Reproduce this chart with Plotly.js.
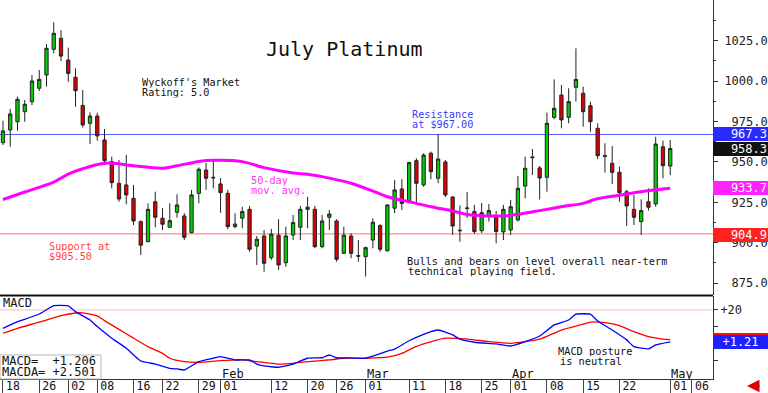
<!DOCTYPE html>
<html><head><meta charset="utf-8">
<script src="https://cdn.plot.ly/plotly-3.0.1.min.js"></script>
<style>html,body{margin:0;padding:0;background:#fff}#chart{width:768px;height:393px}</style>
</head><body><div id="chart"></div>
<script>
const dates = ['2023-12-18','2023-12-19','2023-12-20','2023-12-21','2023-12-22','2023-12-26','2023-12-27','2023-12-28','2023-12-29',
'2024-01-02','2024-01-03','2024-01-04','2024-01-05','2024-01-08','2024-01-09','2024-01-10','2024-01-11','2024-01-12','2024-01-16','2024-01-17','2024-01-18','2024-01-19','2024-01-22','2024-01-23','2024-01-24','2024-01-25','2024-01-26','2024-01-29','2024-01-30','2024-01-31',
'2024-02-01','2024-02-02','2024-02-05','2024-02-06','2024-02-07','2024-02-08','2024-02-09','2024-02-12','2024-02-13','2024-02-14','2024-02-15','2024-02-16','2024-02-20','2024-02-21','2024-02-22','2024-02-23','2024-02-26','2024-02-27','2024-02-28','2024-02-29',
'2024-03-01','2024-03-04','2024-03-05','2024-03-06','2024-03-07','2024-03-08','2024-03-11','2024-03-12','2024-03-13','2024-03-14','2024-03-15','2024-03-18','2024-03-19','2024-03-20','2024-03-21','2024-03-22','2024-03-25','2024-03-26','2024-03-27','2024-03-28',
'2024-04-01','2024-04-02','2024-04-03','2024-04-04','2024-04-05','2024-04-08','2024-04-09','2024-04-10','2024-04-11','2024-04-12','2024-04-15','2024-04-16','2024-04-17','2024-04-18','2024-04-19','2024-04-22','2024-04-23','2024-04-24','2024-04-25','2024-04-26','2024-04-29','2024-04-30',
'2024-05-01'];

const openP = [961.9,969.8,974.9,981.1,987.3,995.6,1003.8,1019.7,1026.5,1013.1,1002.4,985.0,973.9,978.4,963.6,950.2,936.8,935.8,927.5,913.1,900.7,925.4,915.2,909.6,918.9,916.6,906.3,930.6,945.0,940.5,
936.4,930.6,910.0,915.2,920.7,898.0,904.2,890.8,904.7,887.7,904.8,909.6,920.7,920.7,897.6,915.8,913.5,893.5,904.2,891.7,
891.4,901.7,910.6,895.1,921.4,933.3,926.1,950.8,935.8,955.4,939.9,950.0,928.3,907.4,921.2,919.3,907.5,916.6,916.6,906.7,
907.9,914.1,935.1,953.1,946.3,940.5,977.6,991.4,977.6,996.2,992.5,984.8,970.8,953.5,949.2,943.6,931.6,920.7,913.1,925.4,924.0,959.4,947.5];
const highP = [975.5,982.8,990.4,988.3,1003.8,1006.9,1023.0,1036.4,1031.6,1020.7,1007.9,994.5,980.7,980.5,970.4,953.3,951.2,954.3,935.8,913.8,924.4,931.6,921.4,924.4,930.0,918.4,932.7,946.7,949.4,951.2,
940.1,932.7,918.3,922.3,922.8,904.2,907.9,908.6,914.6,910.0,917.2,922.8,928.5,922.8,917.2,920.3,914.6,910.0,905.9,901.7,
897.6,915.2,911.5,923.8,938.9,939.3,950.2,952.3,955.4,956.4,967.0,951.2,928.8,923.1,931.4,923.4,924.6,924.0,919.7,923.4,
926.5,941.3,953.3,958.0,947.5,980.5,1001.1,997.6,995.6,1020.3,996.6,987.3,973.9,961.6,959.9,947.1,932.7,929.6,926.9,933.7,965.6,963.2,963.6];
const lowP = [960.5,959.4,969.3,974.9,985.2,993.9,996.6,1017.2,1012.4,999.6,984.2,971.4,961.1,963.2,948.1,933.7,925.4,923.8,911.0,892.5,900.3,909.6,907.9,909.3,915.5,901.7,905.9,924.4,932.7,933.7,
918.6,908.4,909.0,909.0,894.5,886.3,882.1,889.4,883.2,885.2,901.7,901.7,909.0,896.6,896.6,907.9,888.3,893.1,890.4,888.3,
879.1,896.6,894.5,894.5,918.3,920.3,925.4,924.4,934.7,939.3,936.8,928.3,904.8,900.7,915.4,905.5,906.1,913.1,899.7,901.7,
904.8,913.1,927.5,941.9,926.8,931.6,976.4,970.8,973.9,987.3,971.8,968.7,951.7,943.4,936.4,925.4,910.4,911.0,904.8,919.9,922.3,939.9,941.9];
const closeP = [969.2,979.7,988.8,985.7,1000.1,1001.1,1020.3,1029.6,1015.5,1004.8,994.1,972.9,978.4,966.1,950.8,937.2,927.1,929.6,913.5,898.5,920.7,915.8,911.5,913.7,923.4,903.4,929.6,945.5,939.9,940.2,
931.0,910.0,911.6,919.3,896.0,902.2,887.3,905.3,886.3,904.2,912.5,920.7,922.0,897.6,913.5,917.8,889.8,904.7,893.5,892.0,
897.0,912.7,896.0,923.4,932.7,924.4,949.6,936.8,954.3,944.0,951.8,929.6,910.4,907.7,921.5,906.9,918.6,919.9,907.0,920.7,
922.3,933.7,946.1,952.7,940.1,973.9,983.2,976.0,987.3,1001.1,981.1,974.9,953.9,953.8,943.6,931.0,922.8,915.8,919.9,922.0,961.1,947.7,958.3];

const maDates = ['2023-12-18','2023-12-21','2023-12-28','2024-01-02','2024-01-05','2024-01-09','2024-01-10','2024-01-16','2024-01-22','2024-01-24','2024-01-29','2024-01-31',
'2024-02-06','2024-02-09','2024-02-15','2024-02-20','2024-02-23','2024-02-28','2024-03-04','2024-03-06','2024-03-11','2024-03-14','2024-03-19','2024-03-21','2024-03-26','2024-03-28',
'2024-04-02','2024-04-05','2024-04-10','2024-04-15','2024-04-17','2024-04-22','2024-04-25','2024-05-01'];
const maValues = [926.8,931.4,937.6,942.5,947.2,949.2,949.3,947.6,946.1,947.6,950.3,951.0,
950.2,946.5,943.2,942.4,940.0,936.8,932.0,928.5,925.4,922.3,919.7,917.5,916.6,916.6,
917.6,919.9,922.3,924.4,927.3,929.4,931.6,933.7];

const macdDates = ['2023-12-18','2023-12-20','2023-12-21','2023-12-26','2023-12-28','2024-01-02','2024-01-03','2024-01-05','2024-01-08','2024-01-10','2024-01-12','2024-01-17','2024-01-19','2024-01-23','2024-01-24','2024-01-25','2024-01-29','2024-01-31',
'2024-02-01','2024-02-05','2024-02-07','2024-02-08','2024-02-09','2024-02-13','2024-02-15','2024-02-20','2024-02-22','2024-02-23','2024-02-26','2024-02-28',
'2024-03-01','2024-03-04','2024-03-06','2024-03-07','2024-03-11','2024-03-13','2024-03-15','2024-03-19','2024-03-20','2024-03-22','2024-03-27',
'2024-04-01','2024-04-03','2024-04-05','2024-04-09','2024-04-11','2024-04-12','2024-04-16','2024-04-17','2024-04-19','2024-04-23','2024-04-24','2024-04-26','2024-04-29','2024-05-01'];
const macdValues = [9.2,13.1,14.5,17.6,22.5,22.4,19.0,14.1,10.2,3.4,-2.5,-10.0,-11.8,-14.3,-14.7,-15.3,-10.4,-8.4,
-7.5,-9.4,-9.4,-11.8,-12.9,-13.7,-11.8,-8.4,-8.1,-6.5,-8.1,-8.2,
-8.4,-7.1,-4.2,-3.0,1.9,5.7,8.2,5.3,2.8,1.0,0.0,
-1.2,1.4,4.7,11.2,14.1,17.5,17.5,13.5,8.2,2.4,-1.6,-2.9,-0.6,1.21];

const signalDates = ['2023-12-18','2023-12-20','2023-12-26','2023-12-29','2024-01-03','2024-01-04','2024-01-08','2024-01-09','2024-01-11','2024-01-16','2024-01-18','2024-01-22','2024-01-23','2024-01-25','2024-01-29',
'2024-02-01','2024-02-06','2024-02-08','2024-02-13','2024-02-15','2024-02-20','2024-02-23','2024-02-27',
'2024-03-01','2024-03-06','2024-03-08','2024-03-12','2024-03-18','2024-03-21','2024-03-26',
'2024-04-01','2024-04-05','2024-04-10','2024-04-15','2024-04-16','2024-04-18','2024-04-22','2024-04-24','2024-04-26','2024-04-30','2024-05-01'];
const signalValues = [6.3,9.2,12.8,16.6,18.2,18.3,16.5,13.7,8.6,3.4,-1.6,-5.5,-8.4,-10.4,-10.8,
-9.8,-9.4,-10.4,-11.8,-11.4,-10.4,-9.4,-8.4,
-8.4,-7.8,-5.5,-1.4,3.4,2.9,1.4,
0.4,2.8,8.2,11.6,12.9,12.5,10.8,7.2,4.3,2.8,2.50];

const axisDates = dates.concat(['2024-05-02','2024-05-03','2024-05-06','2024-05-07','2024-05-08','2024-05-09']);
const tickDates = ['2023-12-18','2023-12-26','2024-01-02','2024-01-08','2024-01-16','2024-01-22','2024-01-29','2024-02-01','2024-02-12','2024-02-20','2024-02-26',
'2024-03-01','2024-03-11','2024-03-18','2024-03-25','2024-04-01','2024-04-08','2024-04-15','2024-04-22','2024-05-01','2024-05-06'];
const tickLabels = ['18','26','02','08','16','22','29','01','12','20','26','01','11','18','25','01','08','15','22','01','06'];
const monthLabels = [['Feb','2024-02-01'],['Mar','2024-03-01'],['Apr','2024-04-01'],['May','2024-05-01']];

const priceTicks = [875,900,925,950,975,1000,1025];
const priceTickLabels = ['\u00a0875.0','\u00a0900.0','\u00a0925.0','\u00a0950.0','\u00a0975.0','1000.0','1025.0'];
const priceMinorTicks = [862.5,887.5,912.5,937.5,962.5,987.5,1012.5,1037.5];
const macdTicks = [20,10,0,-10];
const macdTickLabels = ['+20','','',''];

const resistance = 967.0, support = 905.5;
const lastClose = 958.3, lastMA = 933.7, resLabel = 967.3, supLabel = 904.9;
const lastMACD = 1.206, lastSignal = 2.501;

// ---- geometry (pixels) ----
const PW = 713, PH = 379;
const px = x => x / PW;
const py = y => (PH - y) / PH;
const FONT = 'DejaVu Sans Mono';

const idx = d => axisDates.indexOf(d);

const traces = [
  {type:'candlestick', x:dates, open:openP, high:highP, low:lowP, close:closeP,
   xaxis:'x', yaxis:'y', hoverinfo:'skip', whiskerwidth:0,
   increasing:{line:{color:'#222', width:1}, fillcolor:'#00cc00'},
   decreasing:{line:{color:'#222', width:1}, fillcolor:'#dd0000'}},
  {type:'scatter', mode:'lines', x:maDates, y:maValues, xaxis:'x', yaxis:'y',
   line:{color:'#ff00ff', width:3, shape:'spline', smoothing:0.8}, hoverinfo:'skip'},
  {type:'scatter', mode:'lines', x:signalDates, y:signalValues, xaxis:'x', yaxis:'y2',
   line:{color:'#ff0000', width:1.3, shape:'spline', smoothing:0.6}, hoverinfo:'skip'},
  {type:'scatter', mode:'lines', x:macdDates, y:macdValues, xaxis:'x', yaxis:'y2',
   line:{color:'#0000ff', width:1.3, shape:'spline', smoothing:0.4}, hoverinfo:'skip'}
];

const ann = [];
function txt(t, x, y, color, size, anchor, h) {
  const a = {text:t, xref:'paper', yref:'paper', x:px(x), y:py(y), xanchor:anchor||'left', yanchor:'middle',
    showarrow:false, font:{family:FONT, size:size||10.2, color:color||'#111'}, borderpad:0};
  if (h) a.height = h;
  ann.push(a);
}
txt('July Platinum', 344.5, 49, '#111', 20, 'center');
txt("Wyckoff's Market", 141, 82, '#111', 10.2, 'left', 10.6);
txt('Rating: 5.0', 141, 92.7, '#111', 10.2, 'left', 10.6);
txt('Resistance', 411, 114, '#3c3cff', 10.2, 'left', 10.2);
txt('at $967.00', 411, 124.3, '#3c3cff', 10.2, 'left', 10.2);
txt('50-day', 250, 180, '#ff33ff', 10.2, 'left', 10.6);
txt('mov. avg.', 250, 190.7, '#ff33ff', 10.2, 'left', 10.6);
txt('Support at', 47.5, 246, '#ff4444', 10.2, 'left', 10);
txt('$905.50', 47.5, 256, '#ff4444', 10.2, 'left', 10);
txt('Bulls and bears on level overall near-term', 405.5, 260.7, '#111', 10.3, 'left', 10.2);
txt('technical playing field.', 406.5, 271, '#111', 10.3, 'left', 10.2);
txt('MACD posture', 556.5, 351, '#111', 10.3, 'left', 10);
txt('is neutral', 558.5, 361, '#111', 10.3, 'left', 10);
txt('MACD', 1.5, 302.7, '#111', 12);
txt('MACD=  +' + lastMACD.toFixed(3), 0.5, 360.7, '#111', 12, 'left', 11);
txt('MACDA= +' + lastSignal.toFixed(3), 0.5, 371.7, '#111', 12, 'left', 11);
monthLabels.forEach(m => {
  ann.push({text:m[0], xref:'x', yref:'paper', x:idx(m[1]), y:py(373), xanchor:'left', yanchor:'middle',
    xshift:0, showarrow:false, font:{family:FONT, size:12, color:'#111'}, borderpad:0, height:11});
});

function tag(t, y, yref, bg, align) {
  ann.push({text:t, xref:'paper', yref:yref, x:1, y:y, xanchor:'left', yanchor:'middle', showarrow:false,
    width:53, height:12, align:align||'right', bgcolor:bg, borderpad:1, borderwidth:0,
    font:{family:FONT, size:12, color:'#ffffff'}});
}
tag(resLabel.toFixed(1), resLabel, 'y', '#2a2aff');
tag(lastClose.toFixed(1), lastClose, 'y', '#111111');
tag(lastMA.toFixed(1), lastMA, 'y', '#ff22ff');
tag(supLabel.toFixed(1), supLabel, 'y', '#ff2020');
tag('+' + lastSignal.toFixed(2), lastSignal, 'y2', '#ff1010', 'center');
tag('+' + lastMACD.toFixed(2), lastMACD, 'y2', '#2020ff', 'center');

ann.push({text:'', xref:'paper', yref:'paper', x:px(747), y:py(386), ax:14, ay:0, showarrow:true,
  arrowhead:2, arrowsize:1, arrowwidth:2.5, arrowcolor:'#e00000', standoff:0});

const shapes = [
  {type:'line', layer:'below', xref:'paper', x0:0, x1:1, yref:'y', y0:resistance, y1:resistance, line:{color:'#5a5aff', width:1}},
  {type:'line', layer:'below', xref:'paper', x0:0, x1:1, yref:'y', y0:support, y1:support, line:{color:'#ff7070', width:1}},
  {type:'line', layer:'below', xref:'paper', x0:0, x1:1, yref:'y2', y0:20, y1:20, line:{color:'#ffbcbc', width:1}},
  {type:'line', xref:'paper', x0:0, x1:1, yref:'paper', y0:py(295.5), y1:py(295.5), line:{color:'#111', width:2}},
  {type:'rect', xref:'paper', x0:0, x1:px(101), yref:'paper', y0:py(355), y1:py(379), line:{color:'#b5b5b5', width:1}, fillcolor:'rgba(255,255,255,0)'}
];

const layout = {
  width:768, height:393, margin:{l:0, r:55, t:0, b:14}, showlegend:false,
  paper_bgcolor:'#ffffff', plot_bgcolor:'#ffffff', boxgap:0.35,
  font:{family:FONT, size:12, color:'#111'},
  xaxis:{type:'category', anchor:'y2', range:[-0.41, 97.9], rangeslider:{visible:false},
    tickmode:'array', tickvals:tickDates.map(idx), ticktext:tickLabels, tickangle:0,
    ticks:'outside', ticklen:14, tickwidth:1, tickcolor:'#444',
    ticklabelposition:'outside right', ticklabelstandoff:-4, ticklabelshift:2,
    tickfont:{family:FONT, size:11.5, color:'#111'},
    showline:true, linecolor:'#333', linewidth:1, showgrid:false, zeroline:false, fixedrange:true},
  yaxis:{domain:[py(295), 1], range:[867.7, 1050.2], side:'right',
    tickmode:'array', tickvals:priceTicks, ticktext:priceTickLabels,
    ticks:'outside', ticklen:4, tickcolor:'#333', ticklabelstandoff:4,
    minor:{tickmode:'array', tickvals:priceMinorTicks, ticks:'outside', ticklen:2, tickcolor:'#333'},
    tickfont:{family:FONT, size:12, color:'#222'},
    showline:true, linecolor:'#333', linewidth:1, showgrid:false, zeroline:false, fixedrange:true},
  yaxis2:{domain:[0, py(296)], range:[-20.6, 28.2], side:'right', anchor:'x',
    tickmode:'array', tickvals:macdTicks, ticktext:macdTickLabels,
    ticks:'outside', ticklen:4, tickcolor:'#333',
    tickfont:{family:FONT, size:12, color:'#222'},
    showline:true, linecolor:'#333', linewidth:1, showgrid:false, zeroline:false, fixedrange:true},
  shapes:shapes, annotations:ann
};

Plotly.newPlot('chart', traces, layout, {displayModeBar:false, staticPlot:true});
</script></body></html>
